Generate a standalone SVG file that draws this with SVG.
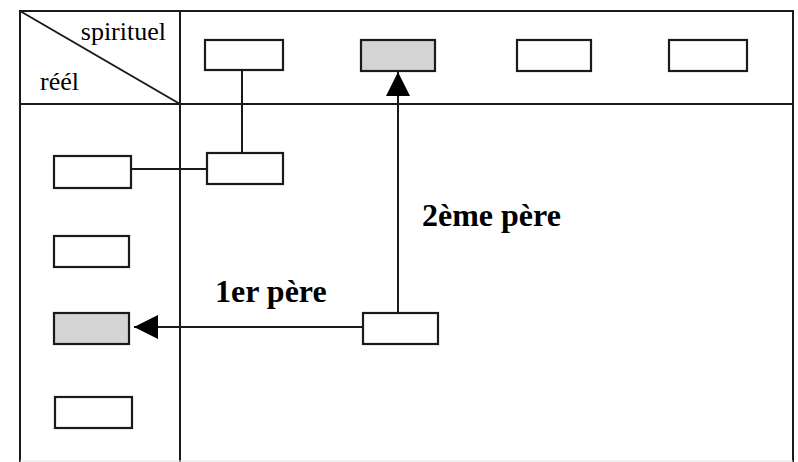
<svg xmlns="http://www.w3.org/2000/svg" width="798" height="462" viewBox="0 0 798 462">
<style>
.frame{fill:none;stroke:#1a1a1a;stroke-width:2}
.box{fill:#fff;stroke:#1a1a1a;stroke-width:2.2}
.shaded{fill:#d4d4d4;stroke:#1a1a1a;stroke-width:2.2}
.conn{fill:none;stroke:#1a1a1a;stroke-width:2}
.lbl{font-family:"Liberation Serif","Times New Roman",serif;fill:#000}
.big{font-family:"Liberation Serif","Times New Roman",serif;font-weight:bold;font-size:32px;fill:#000}
</style>
<defs>
<marker id="ah" viewBox="0 0 10 10" refX="10" refY="5" markerWidth="24" markerHeight="24" markerUnits="userSpaceOnUse" orient="auto">
<path d="M0,0 L10,5 L0,10 z" fill="#000"/>
</marker>
</defs>
<rect width="798" height="462" fill="#fff"/>
<g id="grid">
<path class="frame" d="M20,462 L20,11 L793,11 L793,462"/>
<line class="frame" x1="20" y1="104" x2="793" y2="104"/>
<line class="frame" x1="180" y1="11" x2="180" y2="104" stroke-width="3"/>
<line class="frame" x1="180" y1="104" x2="180" y2="462"/>
<line class="frame" x1="20" y1="11" x2="180" y2="104"/>
<line x1="20" y1="461" x2="793" y2="461" stroke="#e2e2e2" stroke-width="1"/>
<text class="lbl" x="166" y="40" font-size="26" text-anchor="end">spirituel</text>
<text class="lbl" x="40" y="90" font-size="26">réél</text>
</g>
<g id="connectors">
<line class="conn" x1="242" y1="70" x2="242" y2="152"/>
<line class="conn" x1="132" y1="169" x2="207" y2="169"/>
<line class="conn" x1="363" y1="327" x2="134" y2="327" marker-end="url(#ah)"/>
<line class="conn" x1="398" y1="313" x2="398" y2="72" marker-end="url(#ah)"/>
<text class="big" x="215" y="302">1er père</text>
<text class="big" x="422" y="226">2ème père</text>
</g>
<g id="s1"><rect class="box" x="205" y="40" width="78" height="30"/></g>
<g id="s2"><rect class="shaded" x="361" y="40" width="74" height="31"/></g>
<g id="s3"><rect class="box" x="517" y="40" width="74" height="31"/></g>
<g id="s4"><rect class="box" x="669" y="40" width="78" height="31"/></g>
<g id="m1"><rect class="box" x="207" y="153" width="76" height="31"/></g>
<g id="m2"><rect class="box" x="363" y="313" width="75" height="31"/></g>
<g id="r1"><rect class="box" x="54" y="156" width="77" height="32"/></g>
<g id="r2"><rect class="box" x="54" y="236" width="75" height="31"/></g>
<g id="r3"><rect class="shaded" x="54" y="313" width="75" height="31"/></g>
<g id="r4"><rect class="box" x="55" y="397" width="77" height="31"/></g>
</svg>
